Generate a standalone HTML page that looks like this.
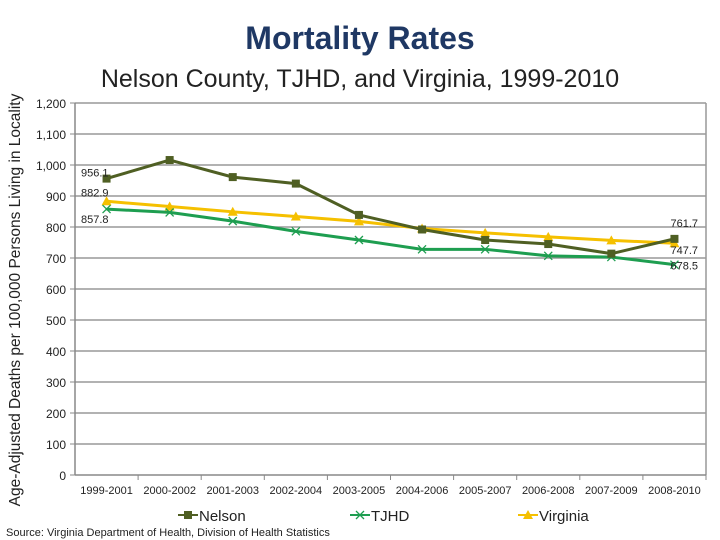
<!DOCTYPE html>
<html><head><meta charset="utf-8"><style>
body{margin:0;background:#fff;}
svg{display:block;font-family:"Liberation Sans",sans-serif;}
</style></head><body>
<svg id="c" width="720" height="540">
<text x="360" y="49" text-anchor="middle" font-size="32" font-weight="bold" fill="#1f3864">Mortality Rates</text>
<text x="360" y="87" text-anchor="middle" font-size="25" fill="#222">Nelson County, TJHD, and Virginia, 1999-2010</text>
<text transform="translate(20,300) rotate(-90)" text-anchor="middle" font-size="15.5" fill="#222">Age-Adjusted Deaths per 100,000 Persons Living in Locality</text>
<text x="6" y="536" font-size="11" fill="#222">Source: Virginia Department of Health, Division of Health Statistics</text>
<g id="g"></g>
</svg>
<script>
const categories=["1999-2001","2000-2002","2001-2003","2002-2004","2003-2005","2004-2006","2005-2007","2006-2008","2007-2009","2008-2010"];
const nelson=[956.1,1016,961,940,839,792,758,745,714,761.7];
const tjhd=[857.8,847,819,786,758,728,728,707,703,678.5];
const virginia=[882.9,866,849,834,818,795,781,768,757,747.7];
const yTicks=[0,100,200,300,400,500,600,700,800,900,1000,1100,1200];
const X0=75,X1=706,Y0=475,Y1=103,YMAX=1200;
const ns="http://www.w3.org/2000/svg";
const g=document.getElementById('g');
function x(i){return X0+(X1-X0)/categories.length*(i+0.5);}
function y(v){return Y0-(Y0-Y1)*v/YMAX;}
function mk(t,a){const e=document.createElementNS(ns,t);for(const k in a)e.setAttribute(k,a[k]);g.appendChild(e);return e;}
yTicks.forEach(v=>{
 if(v>0){const l=mk('line',{x1:X0,x2:X1,y1:y(v),y2:y(v),stroke:'#999','stroke-width':1.5});
 
 }
 const t=mk('text',{x:66,y:y(v)+5,'text-anchor':'end','font-size':12,fill:'#222'});t.textContent=v.toLocaleString('en-US');
 
 
 mk('line',{x1:X0-5,x2:X0,y1:y(v),y2:y(v),stroke:'#888'});
});
const ax=mk('line',{x1:X0,x2:X0,y1:Y1,y2:Y0,stroke:'#888','stroke-width':1.5});


const rb=mk('line',{x1:X1,x2:X1,y1:Y1,y2:Y0,stroke:'#999','stroke-width':1.5});


const xa=mk('line',{x1:X0,x2:X1,y1:Y0,y2:Y0,stroke:'#888','stroke-width':1.5});


categories.forEach((c,i)=>{
 const w=(X1-X0)/categories.length;
 mk('line',{x1:X0+w*(i+1),x2:X0+w*(i+1),y1:Y0,y2:Y0+5,stroke:'#888'});
 const t=mk('text',{x:x(i),y:494,'text-anchor':'middle','font-size':11,fill:'#222'});t.textContent=c;
 
 
});
function marker(type,cx,cy,col){
 if(type==='sq')return mk('rect',{x:cx-4,y:cy-4,width:8,height:8,fill:col});
 if(type==='x')return mk('path',{d:`M${cx-4},${cy-4}L${cx+4},${cy+4}M${cx-4},${cy+4}L${cx+4},${cy-4}`,stroke:col,'stroke-width':1.3});
 return mk('path',{d:`M${cx},${cy-5}L${cx+5},${cy+4}L${cx-5},${cy+4}Z`,fill:col});
}
function series(vals,col,type,name){
 const p=mk('polyline',{points:vals.map((v,i)=>x(i)+','+y(v)).join(' '),fill:'none',stroke:col,'stroke-width':3});
 
 
 vals.forEach((v,i)=>{const m=marker(type,x(i),y(v),col);
 
 });
}
series(virginia,'#f5c000','tri','virginia');
series(tjhd,'#1e9e50','x','tjhd');
series(nelson,'#4f5f23','sq','nelson');
function lab(txt,xx,yy,anc){const t=mk('text',{x:xx,y:yy,'font-size':11,fill:'#222','text-anchor':anc});t.textContent=txt;
 
 }
lab(nelson[0].toFixed(1),81,y(nelson[0])-2,'start');
lab(virginia[0].toFixed(1),81,y(virginia[0])-5,'start');
lab(tjhd[0].toFixed(1),81,y(tjhd[0])+14,'start');
lab(nelson[9].toFixed(1),698,y(nelson[9])-12,'end');
lab(virginia[9].toFixed(1),698,y(virginia[9])+11,'end');
lab(tjhd[9].toFixed(1),698,y(tjhd[9])+5,'end');
[['Nelson','#4f5f23','sq',178],['TJHD','#1e9e50','x',350],['Virginia','#f5c000','tri',518]].forEach(([n,c,t,lx])=>{
 const l=mk('line',{x1:lx,x2:lx+20,y1:515,y2:515,stroke:c,'stroke-width':2});
 
 
 marker(t,lx+10,515,c);
 const tx=mk('text',{x:lx+21,y:521,'font-size':15,fill:'#222'});tx.textContent=n;
 
 
});
</script>
</body></html>
